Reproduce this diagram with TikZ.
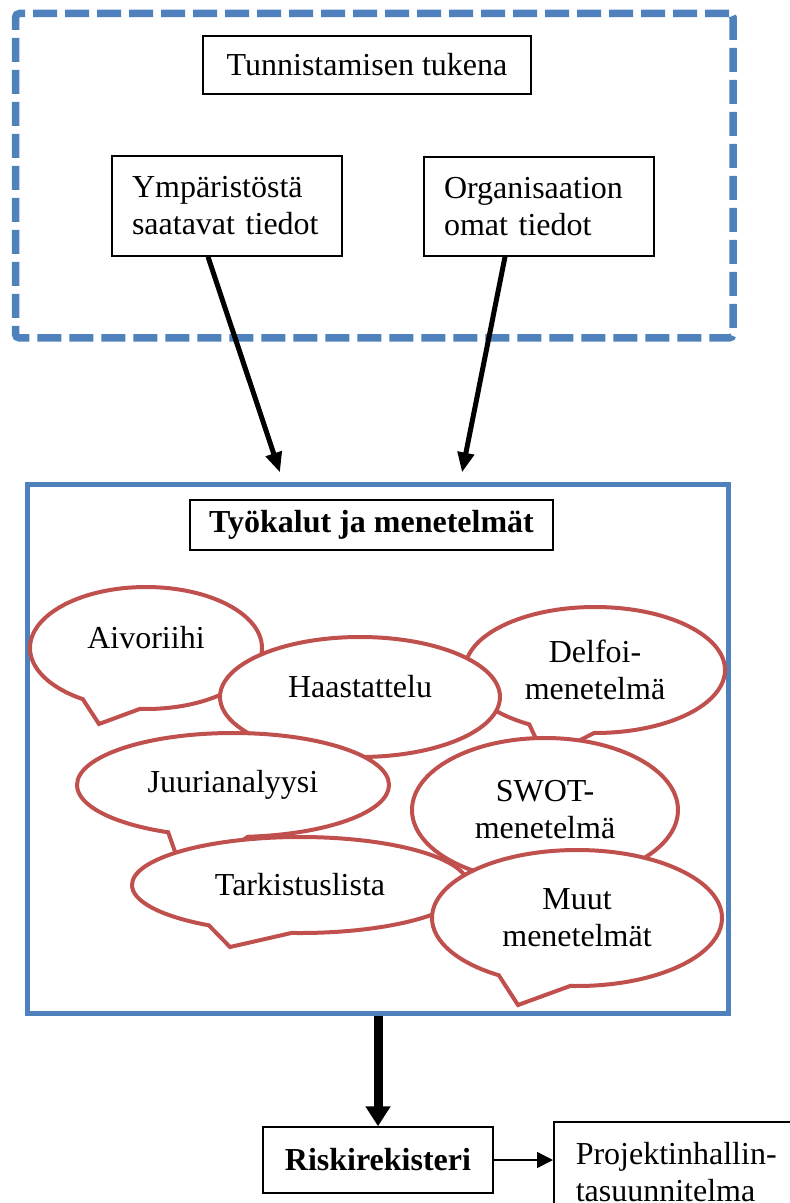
\documentclass[tikz,border=0pt]{standalone}
\usepackage{fontspec}
\setmainfont{Liberation Serif}
\usetikzlibrary{arrows.meta,positioning,shapes.callouts,calc}
\definecolor{ink}       {HTML}{000000}
\definecolor{officeblue}{HTML}{4F81BD}
\definecolor{bubred}    {HTML}{C0504D}
\tikzset{
  textbox/.style  ={draw=ink, fill=white, line width=0.75pt,
                    inner sep=0pt, align=center},
  leftbox/.style  ={draw=ink, fill=white, line width=0.75pt,
                    inner xsep=10pt, inner ysep=0pt, text width=95pt, align=left},
  dashframe/.style={draw=officeblue, line width=3.75pt,
                    dash pattern=on 12pt off 4pt, rounded corners=2pt},
  toolframe/.style={draw=officeblue, line width=2.5pt},
  bubble/.style   ={ellipse callout, draw=bubred, fill=white, line width=2pt,
                    inner sep=0pt, align=center, callout pointer arc=30},
  flowarr/.style  ={-{Triangle[length=10pt,width=8pt]}, line width=2.5pt},
  bigarr/.style   ={-{Triangle[length=10pt,width=12pt]}, line width=4.5pt},
  thinarr/.style  ={-{Triangle[length=8pt,width=8pt]}, line width=0.75pt},
}

\begin{document}
\begin{tikzpicture}[x=0.5pt,y=-0.5pt,font=\fontsize{16}{18.5}\selectfont]
  \useasboundingbox (0,0) rectangle (790,1203);

  % tunnistamisen tuki
  \node[dashframe, minimum width=358.75pt, minimum height=162.25pt] (support) at (374.25,175.75) {};
  \node[textbox, minimum width=164pt, minimum height=29pt] (tunn) at (367,65) {Tunnistamisen tukena};
  \node[leftbox, minimum height=50pt] (ymp) at (227,206) {Ympäristöstä\\saatavat tiedot};
  \node[leftbox, minimum height=49.5pt] (org) at (539,206.5) {Organisaation\\omat tiedot};

  % tyokalut
  \node[toolframe, minimum width=350.5pt, minimum height=264.5pt] (tools) at (377.5,748.5) {};
  \node[textbox, minimum width=181.5pt, minimum height=25pt, font=\fontsize{16}{18.5}\selectfont\bfseries]
    (title) at (371.5,525) {Työkalut ja menetelmät};

  \node[bubble, minimum width=116pt, minimum height=61pt, text depth=11pt,
        callout absolute pointer={(99,724)}] (aivo) at (146,648) {Aivoriihi};
  \node[bubble, minimum width=130pt, minimum height=63pt,
        callout absolute pointer={(545,758)}] (delf) at (595,670) {Delfoi-\\menetelmä};
  \node[bubble, minimum width=140pt, minimum height=60pt, text depth=11pt,
        callout absolute pointer={(295,790)}] (haas) at (360,697) {Haastattelu};
  \node[bubble, minimum width=156pt, minimum height=52pt,
        callout absolute pointer={(185,880)}] (juur) at (233,785) {Juurianalyysi};
  \node[bubble, minimum width=133pt, minimum height=72pt,
        callout absolute pointer={(560,930)}] (swot) at (545,810) {SWOT-\\menetelmä};
  \node[bubble, minimum width=168pt, minimum height=48pt,
        callout absolute pointer={(230,947)}] (tark) at (300,885) {Tarkistuslista};
  \node[bubble, minimum width=145pt, minimum height=68pt,
        callout absolute pointer={(518,1005)}] (muut) at (577,918) {Muut\\menetelmät};

  % rekisteri
  \node[textbox, minimum width=115pt, minimum height=33pt, font=\fontsize{16}{18.5}\selectfont\bfseries]
    (risk) at (378,1160) {Riskirekisteri};
  \node[leftbox, anchor=north west, inner xsep=11pt, text width=112pt, minimum height=50pt]
    (plan) at (553,1121) {Projektinhallin-\\tasuunnitelma};

  \draw[flowarr] ($(ymp.south)+(-19,0)$) -- ($(tools.north)+(-97.5,-9)$);
  \draw[flowarr] ($(org.south)+(-34,0)$) -- ($(tools.north)+(84.5,-9)$);
  \draw[bigarr] (tools.south -| risk.north) -- (risk.north);
  \draw[thinarr] (risk.east) -- (risk.east -| plan.west);
\end{tikzpicture}
\end{document}
